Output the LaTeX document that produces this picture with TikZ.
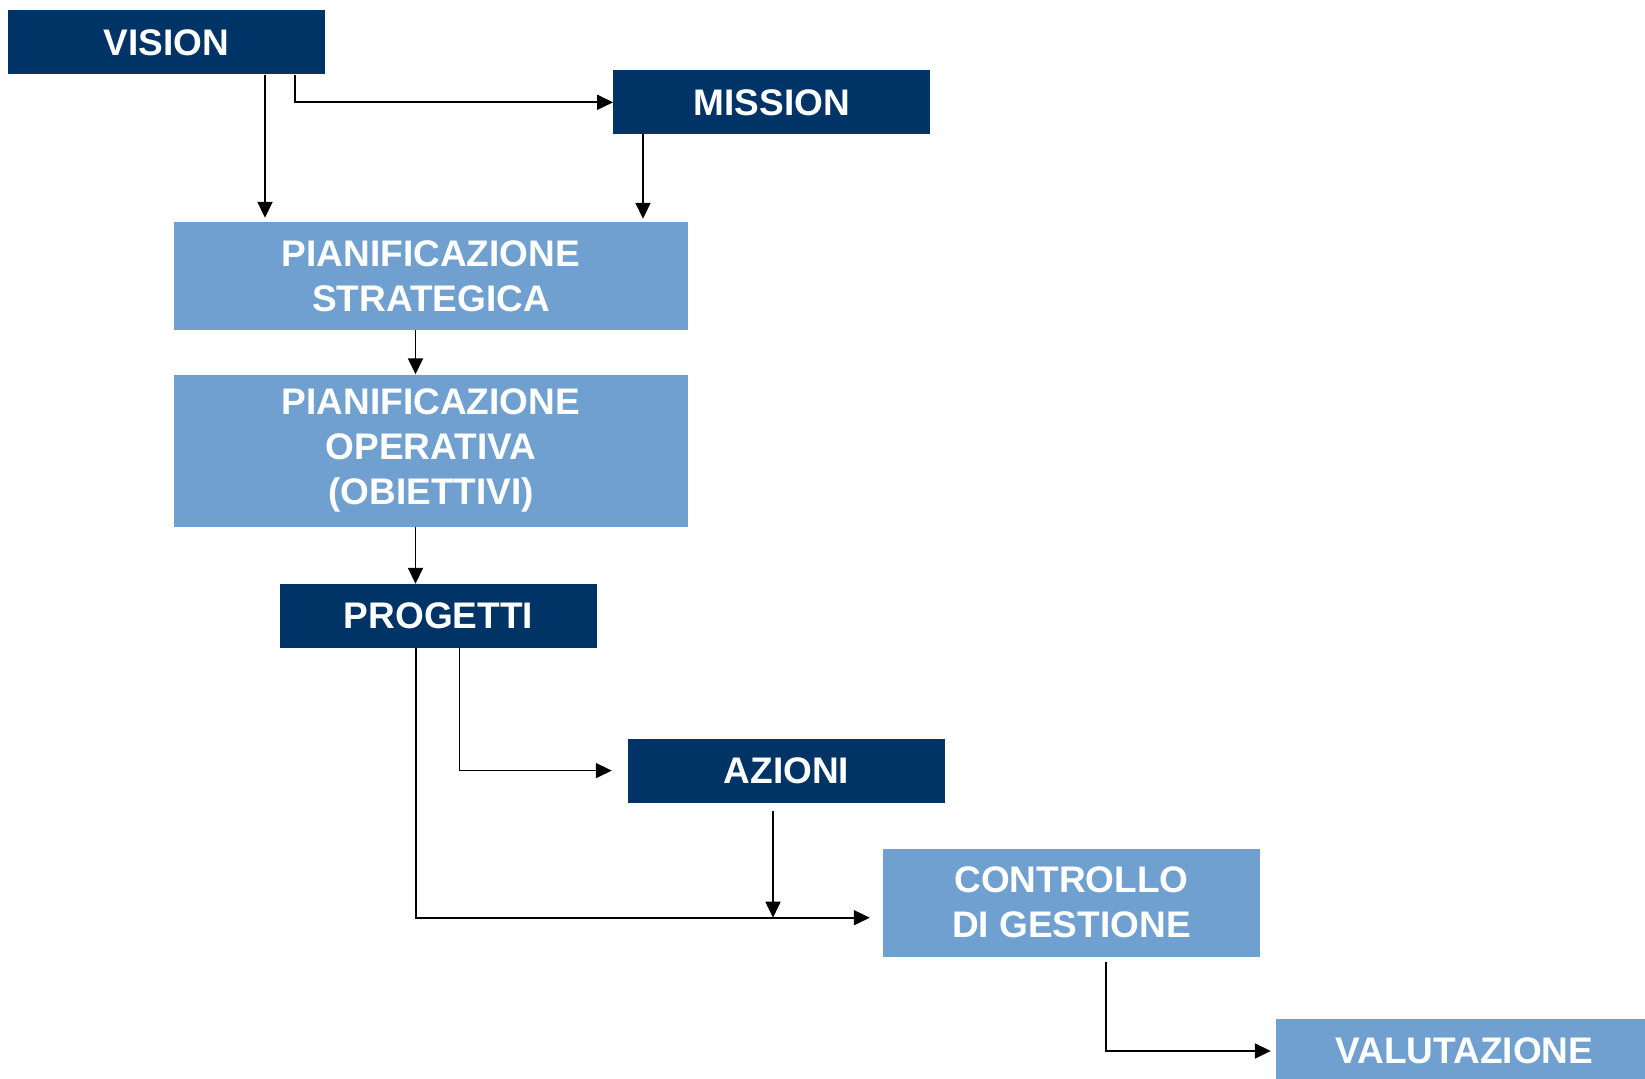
\documentclass[tikz,border=0pt]{standalone}
\usepackage{fontspec}
\setmainfont{Liberation Sans}
\usetikzlibrary{arrows.meta,calc}
\definecolor{navy}{RGB}{0,51,102}
\definecolor{steel}{RGB}{112,160,207}

\begin{document}
\begin{tikzpicture}[x=1pt, y=-1pt,
  dark/.style={fill=navy, text=white, inner sep=0pt, minimum width=317pt, minimum height=64pt, align=center, font=\fontsize{37}{45}\selectfont\bfseries},
  light/.style={dark, fill=steel, minimum width=514pt, minimum height=108pt},
  arr/.style={-{Triangle[length=16pt,width=15pt]}, line width=1.7pt}]
\useasboundingbox (0,0) rectangle (1645,1078);
\node [dark] (vision) at (166.7,42.5) {VISION};
\node [dark] (mission) at (771.8,102.3) {MISSION};
\node [light] (strat) at (431,276) {PIANIFICAZIONE\\STRATEGICA};
\node [light, minimum height=152pt] (oper) at (431,450.5) {PIANIFICAZIONE\\OPERATIVA\\(OBIETTIVI)};
\node [dark] (progetti) at (438.5,616) {PROGETTI};
\node [dark] (azioni) at (786.5,770.6) {AZIONI};
\node [light, minimum width=377pt] (controllo) at (1071.5,902.7) {CONTROLLO\\DI GESTIONE};
\node [light, minimum width=377pt, minimum height=64pt] (valutazione) at (1464.5,1051) {VALUTAZIONE};
\coordinate (v1) at ($(vision.south)+(98.3,0)$); \coordinate (v2) at ($(vision.south)+(128.3,0)$);
\coordinate (m1) at ($(mission.south)+(-128.8,0)$);
\coordinate (s1) at ($(strat.south)+(-15.5,0)$); \coordinate (o1) at ($(oper.south)+(-15.5,0)$);
\coordinate (p1) at ($(progetti.south)+(21,0)$); \coordinate (p2) at ($(progetti.south)+(-22.5,0)$);
\coordinate (a1) at ($(azioni.south)+(-13.5,8)$);
\coordinate (c1) at ($(controllo.west)+(-13,15)$); \coordinate (c2) at ($(controllo.south)+(34.5,5)$);
\draw [arr, shorten >=4pt] (v1) -- (v1 |- strat.north);
\draw [arr] (v2) |- (mission.west);
\draw [arr, shorten >=3pt] (m1) -- (m1 |- strat.north);
\draw [arr] (s1) -- (s1 |- oper.north);
\draw [arr] (o1) -- (o1 |- progetti.north);
\draw [arr, shorten >=16pt] (p1) |- (azioni.west);
\draw [arr] (p2) |- (c1);
\draw [arr] (a1) -- (a1 |- c1);
\draw [arr, shorten >=5pt] (c2) |- (valutazione.west);
\end{tikzpicture}
\end{document}
